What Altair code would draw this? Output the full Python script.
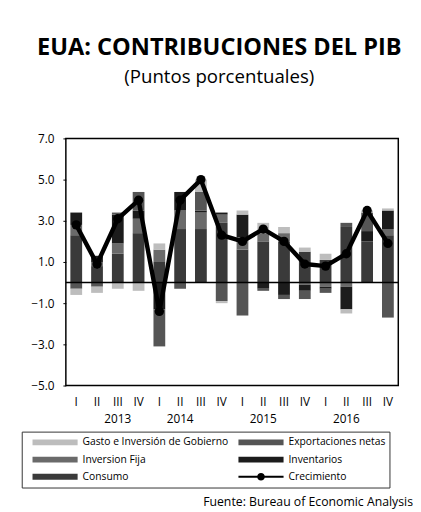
import altair as alt
import pandas as pd

# --- data ---
anios = [2013] * 4 + [2014] * 4 + [2015] * 4 + [2016] * 4
trimestres = ["I", "II", "III", "IV"] * 4
consumo = [2.3, 0.8, 1.4, 2.4, 1.0, 2.6, 2.6, 2.9, 1.6, 2.0, 2.0, 1.5, 1.1, 2.7, 2.0, 2.3]
inversion_fija = [0.5, 0.2, 0.5, 0.7, 0.6, 0.9, 0.8, 0.4, 0.6, 0.4, 0.4, -0.1, -0.2, -0.2, 0.0, 0.3]
inventarios = [0.6, 0.3, 1.4, 0.4, -1.3, 0.9, 0.1, 0.1, 1.1, -0.3, -0.6, -0.3, -0.1, -1.1, 0.5, 0.9]
exportaciones_netas = [-0.3, -0.2, 0.1, 0.9, -1.8, -0.3, 0.9, -0.9, -1.6, -0.1, -0.2, -0.4, -0.2, 0.2, 0.9, -1.7]
gobierno = [-0.3, -0.3, -0.3, -0.4, 0.3, 0.0, 0.6, -0.1, 0.2, 0.5, 0.3, 0.2, 0.3, -0.2, 0.1, 0.1]
crecimiento = [2.8, 0.9, 3.1, 4.0, -1.4, 4.0, 5.0, 2.3, 2.0, 2.6, 2.0, 0.9, 0.8, 1.4, 3.5, 1.9]
# quarter under which each year label sits
anio_bajo = ["2013-III", "2014-II", "2015-II", "2016-II"]

series = ["Gasto e Inversión de Gobierno", "Exportaciones netas", "Inversion Fija",
          "Inventarios", "Consumo", "Crecimiento"]
colores = ["#bdbdbd", "#555555", "#6a6a6a", "#1c1c1c", "#3a3a3a", "#000000"]

periodos = [f"{a}-{t}" for a, t in zip(anios, trimestres)]
comp = {
    "Consumo": consumo,
    "Inversion Fija": inversion_fija,
    "Inventarios": inventarios,
    "Exportaciones netas": exportaciones_netas,
    "Gasto e Inversión de Gobierno": gobierno,
}
rows = []
for k, (nombre, vals) in enumerate(comp.items()):
    for p, v in zip(periodos, vals):
        rows.append({"periodo": p, "serie": nombre, "valor": v, "orden": k})
df_bar = pd.DataFrame(rows)
df_line = pd.DataFrame({"periodo": periodos, "valor": crecimiento, "serie": "Crecimiento"})

W, H = 339, 252
FONT = "Open Sans"

rect_path = "M-1,-0.13H1V0.13H-1Z"
line_path = "M-1,-0.045H1V0.045H-1Z M0.17,0 A0.17,0.17 0 1,1 -0.17,0 A0.17,0.17 0 1,1 0.17,0 Z"

label_expr = ("indexof(" + str(anio_bajo).replace('"', "'") + ", datum.value) >= 0 ? "
              "[split(datum.value,'-')[1], split(datum.value,'-')[0]] : split(datum.value,'-')[1]")

x_enc = alt.X("periodo:N", sort=periodos, title=None,
              scale=alt.Scale(paddingInner=0.42, paddingOuter=0.21),
              axis=alt.Axis(labelExpr=label_expr, labelAngle=0, ticks=False, domain=False,
                            labelPadding=11, labelFontSize=12, labelFont=FONT,
                            labelColor="#000", labelLineHeight=18))
y_scale = alt.Scale(domain=[-5, 7], nice=False, zero=False)
color_enc = alt.Color("serie:N",
                      scale=alt.Scale(domain=series, range=colores),
                      legend=alt.Legend(
                          title=None, orient="none", legendX=-45, legendY=299,
                          columns=2, direction="horizontal",
                          symbolType=alt.ExprRef(expr=f"datum.label == 'Crecimiento' ? '{line_path}' : '{rect_path}'"),
                          symbolSize=2116, symbolStrokeWidth=0, symbolOpacity=1, symbolOffset=7,
                          labelFont=FONT, labelFontSize=10.5, labelColor="#000",
                          labelLimit=400,
                          labelOffset=5, clipHeight=14, rowPadding=3.5, columnPadding=3,
                          padding=4, strokeColor="#333", fillColor="white"))

bars = alt.Chart(df_bar).mark_bar(size=12).encode(
    x=x_enc,
    y=alt.Y("valor:Q", scale=y_scale, title=None, stack="zero",
            axis=alt.Axis(values=[-5, -3, -1, 1, 3, 5, 7], format=".1f", grid=False,
                          domain=False, tickSize=3, tickColor="#000", labelPadding=9,
                          labelFontSize=12, labelFont=FONT, labelColor="#000")),
    color=color_enc,
    order=alt.Order("orden:Q", sort="ascending"),
)

zero = alt.Chart(pd.DataFrame({"y": [0]})).mark_rule(color="#000", strokeWidth=1.5).encode(
    y=alt.Y("y:Q", scale=y_scale))

line = alt.Chart(df_line).mark_line(strokeWidth=4.5, point=alt.OverlayMarkDef(size=90, filled=True, color="#000")).encode(
    x=alt.X("periodo:N", sort=periodos),
    y=alt.Y("valor:Q", scale=y_scale),
    color=alt.Color("serie:N", scale=alt.Scale(domain=series, range=colores)),
)

fuente = alt.Chart(pd.DataFrame({"t": ["Fuente:  Bureau of Economic Analysis"]})).mark_text(
    align="right", baseline="middle", font=FONT, fontSize=12.5, color="#000").encode(
    text="t:N", x=alt.value(W + 15), y=alt.value(H + 119))

chart = alt.layer(bars, zero, line, fuente).properties(
    width=W, height=H,
    padding={"left": 13, "top": 24, "right": 0, "bottom": 0},
    title=alt.Title("EUA: CONTRIBUCIONES DEL PIB", subtitle="(Puntos porcentuales)",
                    font=FONT, fontSize=24, fontWeight="bold", color="#000",
                    subtitleFont=FONT, subtitleFontSize=19, subtitleColor="#000",
                    anchor="middle", dx=-13, offset=47, subtitlePadding=8),
).configure_view(stroke="#000", strokeWidth=1.5)

chart.save("out.html", embed_options={"renderer": "svg", "actions": False})
